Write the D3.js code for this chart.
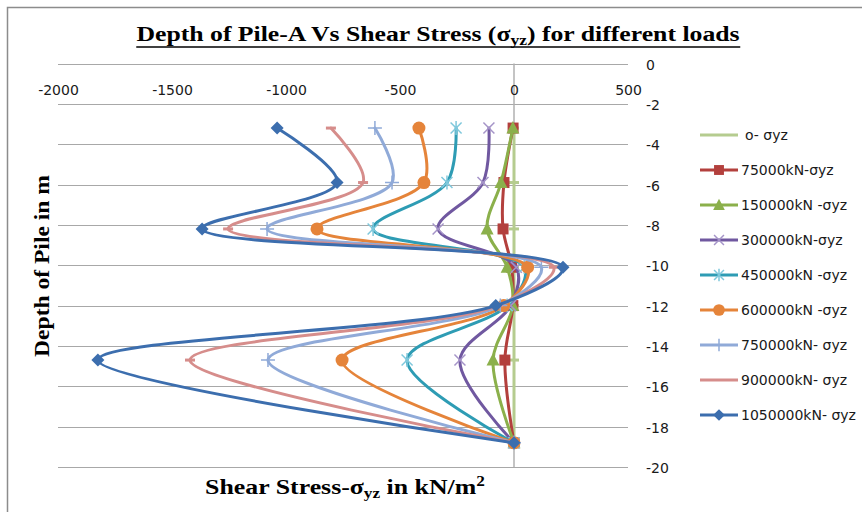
<!DOCTYPE html>
<html>
<head>
<meta charset="utf-8">
<script src="https://cdn.jsdelivr.net/npm/d3@7"></script>
<style>
  body { margin: 0; background: #fff; }
  svg { display: block; }
</style>
</head>
<body>
<svg id="chart" width="862" height="512"></svg>
<script>
// Depth of the calculation points along the pile (m)
const depths = [-3.2, -5.9, -8.2, -10.1, -12.0, -14.7, -18.8];

// Shear stress sigma_yz (kN/m2) at each depth, one array per applied load
const load0       = [0, 0, 0, 0, 0, 0, 0];
const load75000   = [-4, -44, -48, -10, -5, -40, 0];
const load150000  = [-5, -57, -118, -30, -5, -92, 0];
const load300000  = [-110, -136, -333, 10, -15, -237, 0];
const load450000  = [-254, -294, -618, 45, -30, -469, 0];
const load600000  = [-417, -395, -864, 60, -45, -754, 0];
const load750000  = [-610, -535, -1083, 120, -60, -1079, 0];
const load900000  = [-803, -662, -1254, 175, -70, -1421, 0];
const load1050000 = [-1039, -776, -1368, 215, -80, -1825, 0];

const seriesNames = [
  "o- σyz", "75000kN-σyz", "150000kN -σyz", "300000kN-σyz", "450000kN -σyz",
  "600000kN -σyz", "750000kN- σyz", "900000kN- σyz", "1050000kN- σyz"
];

const xTickValues = [-2000, -1500, -1000, -500, 0, 500];
const yTickValues = [0, -2, -4, -6, -8, -10, -12, -14, -16, -18, -20];

// Drawing styles per series (line colour, marker type, marker colour)
const styles = [
  { color: "#B5CC8F", marker: "dash",     mcolor: "#B5CC8F" },
  { color: "#B3403D", marker: "square",   mcolor: "#B3403D" },
  { color: "#8BB04B", marker: "triangle", mcolor: "#8BB04B" },
  { color: "#7058A0", marker: "x",        mcolor: "#A594C8" },
  { color: "#2E9CB4", marker: "asterisk", mcolor: "#7FC8DC" },
  { color: "#E5843A", marker: "circle",   mcolor: "#E5843A" },
  { color: "#90AAD8", marker: "plus",     mcolor: "#90AAD8" },
  { color: "#D68D8B", marker: "dash",     mcolor: "#D68D8B" },
  { color: "#3C6EAE", marker: "diamond",  mcolor: "#3C6EAE" }
];

const seriesValues = [load0, load75000, load150000, load300000, load450000,
                      load600000, load750000, load900000, load1050000];

const series = seriesNames.map((name, i) => ({
  name,
  points: depths.map((d, j) => ({ depth: d, value: seriesValues[i][j] })),
  ...styles[i]
}));

const svg = d3.select("#chart");

const x = d3.scaleLinear().domain([-2000, 500]).range([58, 628]);
const y = d3.scaleLinear().domain([0, -20]).range([63.5, 467]);

const tickFont = "'DejaVu Sans', sans-serif";
const serif = "'Liberation Serif', 'Times New Roman', serif";

// outer frame of the chart area
svg.append("path")
  .attr("d", "M7.5,512 V7.5 H862")
  .attr("fill", "none")
  .attr("stroke", "#8C8C8C")
  .attr("stroke-width", 1.5);

// horizontal gridlines
svg.append("g").selectAll("line")
  .data(yTickValues)
  .join("line")
  .attr("x1", x.range()[0]).attr("x2", x.range()[1])
  .attr("y1", d => Math.round(y(d)) + 0.5).attr("y2", d => Math.round(y(d)) + 0.5)
  .attr("stroke", "#A8A8A8")
  .attr("stroke-width", 1);

// vertical value axis at x = 0
svg.append("line")
  .attr("x1", x(0)).attr("x2", x(0))
  .attr("y1", y(0)).attr("y2", y(-20))
  .attr("stroke", "#B0B0B0")
  .attr("stroke-width", 1.5);

// x tick labels (placed above the plot)
const xAxis = svg.append("g")
  .attr("transform", "translate(0,85)")
  .call(d3.axisBottom(x).tickValues(xTickValues).tickSize(0).tickPadding(0).tickFormat(d => String(d)));
xAxis.select(".domain").remove();
xAxis.selectAll("text")
  .attr("font-family", tickFont).attr("font-size", 14).attr("fill", "#1a1a1a");

// y tick labels on the right
const yAxis = svg.append("g")
  .attr("transform", "translate(646,0)")
  .call(d3.axisRight(y).tickValues(yTickValues).tickSize(0).tickPadding(0).tickFormat(d => String(d)));
yAxis.select(".domain").remove();
yAxis.selectAll("text")
  .attr("font-family", tickFont).attr("font-size", 14).attr("fill", "#1a1a1a")
  .attr("dy", "0.4em");

// series curves
const line = d3.line()
  .x(p => x(p.value))
  .y(p => y(p.depth))
  .curve(d3.curveCatmullRom.alpha(0.5));

function drawMarker(g, type, color, cx, cy, scale = 1) {
  const s = scale;
  switch (type) {
    case "square":
      g.append("rect").attr("x", cx - 5.5 * s).attr("y", cy - 5.5 * s)
        .attr("width", 11 * s).attr("height", 11 * s).attr("fill", color);
      break;
    case "triangle":
      g.append("path").attr("d", `M${cx},${cy - 7 * s} L${cx + 6.5 * s},${cy + 5.5 * s} L${cx - 6.5 * s},${cy + 5.5 * s} Z`)
        .attr("fill", color);
      break;
    case "circle":
      g.append("circle").attr("cx", cx).attr("cy", cy).attr("r", 6.5 * s).attr("fill", color);
      break;
    case "diamond":
      g.append("path").attr("d", `M${cx},${cy - 6.5 * s} L${cx + 6.5 * s},${cy} L${cx},${cy + 6.5 * s} L${cx - 6.5 * s},${cy} Z`)
        .attr("fill", color);
      break;
    case "x":
      g.append("path").attr("d", `M${cx - 5.5 * s},${cy - 5.5 * s} L${cx + 5.5 * s},${cy + 5.5 * s} M${cx + 5.5 * s},${cy - 5.5 * s} L${cx - 5.5 * s},${cy + 5.5 * s}`)
        .attr("stroke", color).attr("stroke-width", 1.5).attr("fill", "none");
      break;
    case "asterisk":
      g.append("path").attr("d", `M${cx - 5.5 * s},${cy - 5.5 * s} L${cx + 5.5 * s},${cy + 5.5 * s} M${cx + 5.5 * s},${cy - 5.5 * s} L${cx - 5.5 * s},${cy + 5.5 * s} M${cx},${cy - 7 * s} L${cx},${cy + 7 * s}`)
        .attr("stroke", color).attr("stroke-width", 1.5).attr("fill", "none");
      break;
    case "plus":
      g.append("path").attr("d", `M${cx - 7 * s},${cy} L${cx + 7 * s},${cy} M${cx},${cy - 7 * s} L${cx},${cy + 7 * s}`)
        .attr("stroke", color).attr("stroke-width", 1.5).attr("fill", "none");
      break;
    case "dash":
      g.append("path").attr("d", `M${cx - 5 * s},${cy} L${cx + 5 * s},${cy}`)
        .attr("stroke", color).attr("stroke-width", 3).attr("fill", "none");
      break;
  }
}

const plot = svg.append("g");
series.forEach(sr => {
  const g = plot.append("g");
  g.append("path")
    .datum(sr.points)
    .attr("d", line)
    .attr("fill", "none")
    .attr("stroke", sr.color)
    .attr("stroke-width", 3)
    .attr("stroke-linejoin", "round")
    .attr("stroke-linecap", "round");
  sr.points.forEach(p => drawMarker(g, sr.marker, sr.mcolor, x(p.value), y(p.depth)));
});

// legend
const legend = svg.append("g");
series.forEach((sr, i) => {
  const cy = 135 + i * 35;
  const g = legend.append("g");
  g.append("line")
    .attr("x1", 700).attr("x2", 738).attr("y1", cy).attr("y2", cy)
    .attr("stroke", sr.color).attr("stroke-width", 3);
  if (sr.marker !== "dash") drawMarker(g, sr.marker, sr.mcolor, 719, cy, 0.9);
  g.append("text")
    .attr("x", i === 0 ? 745 : 741).attr("y", cy).attr("dy", "0.35em")
    .attr("font-family", tickFont).attr("font-size", 14).attr("fill", "#1a1a1a")
    .text(sr.name);
});

// Stretch a text group horizontally (in its own frame) so it spans `width` px,
// keeping it centred on (cx, cy-baseline) after rotation `rot`.
function fitText(g, width) {
  const b = g.node().getBBox();
  return width / b.width;
}

// title with subscript and underline
const titleG = svg.append("g");
const title = titleG.append("text")
  .attr("x", 0).attr("y", 0)
  .attr("text-anchor", "middle")
  .attr("font-family", serif).attr("font-weight", "bold").attr("font-size", 22)
  .attr("fill", "#000");
title.append("tspan").text("Depth of Pile-A Vs Shear Stress (σ");
title.append("tspan").attr("dy", 4).attr("font-size", 15).text("yz");
title.append("tspan").attr("dy", -4).text(") for different loads");
const tb = title.node().getBBox();
titleG.append("line")
  .attr("x1", tb.x).attr("x2", tb.x + tb.width)
  .attr("y1", 6).attr("y2", 6)
  .attr("stroke", "#000").attr("stroke-width", 1.6);
titleG.attr("transform", `translate(438,41) scale(${fitText(title, 604)},1)`);

// x axis title
const xtG = svg.append("g");
const xt = xtG.append("text")
  .attr("x", 0).attr("y", 0)
  .attr("text-anchor", "middle")
  .attr("font-family", serif).attr("font-weight", "bold").attr("font-size", 21)
  .attr("fill", "#000");
xt.append("tspan").text("Shear Stress-σ");
xt.append("tspan").attr("dy", 4).attr("font-size", 14).text("yz");
xt.append("tspan").attr("dy", -4).text(" in kN/m");
xt.append("tspan").attr("dy", -8).attr("font-size", 14).text("2");
xtG.attr("transform", `translate(345,494) scale(${fitText(xt, 280)},1)`);

// y axis title
const ytG = svg.append("g");
const yt = ytG.append("text")
  .attr("x", 0).attr("y", 0)
  .attr("text-anchor", "middle")
  .attr("font-family", serif).attr("font-weight", "bold").attr("font-size", 22)
  .attr("fill", "#000")
  .text("Depth of Pile in m");
ytG.attr("transform", `translate(49,266) rotate(-90) scale(${fitText(yt, 182)},1)`);
</script>
</body>
</html>
